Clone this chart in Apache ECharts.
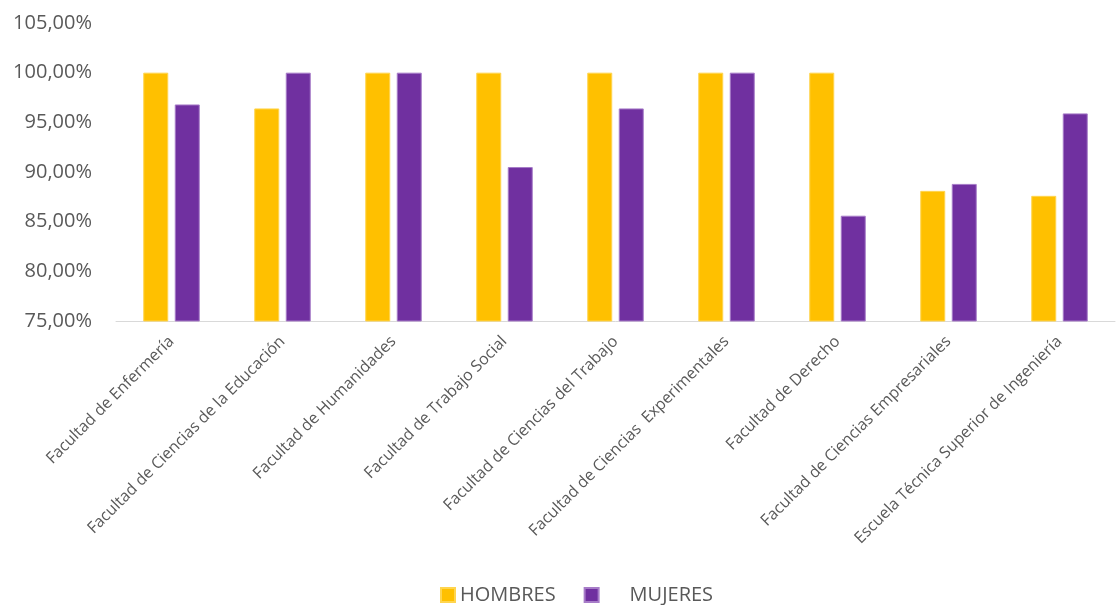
<!DOCTYPE html>
<html>
<head>
<meta charset="utf-8">
<script src="https://cdn.jsdelivr.net/npm/echarts@6/dist/echarts.min.js"></script>
<style>
html,body{margin:0;padding:0;background:#fff;}
#chart{width:1116px;height:605px;}
</style>
</head>
<body>
<div id="chart"></div>
<script>
var categories = [
  'Facultad de Enfermería',
  'Facultad de Ciencias de la Educación',
  'Facultad de Humanidades',
  'Facultad de Trabajo Social',
  'Facultad de Ciencias del Trabajo',
  'Facultad de Ciencias  Experimentales',
  'Facultad de Derecho',
  'Facultad de Ciencias Empresariales',
  'Escuela Técnica Superior de Ingeniería'
];
var hombres = [100, 96.4, 100, 100, 100, 100, 100, 88.1, 87.6];
var mujeres = [96.8, 100, 100, 90.5, 96.4, 100, 85.6, 88.8, 95.9];
var yTicks = { min: 75, max: 105, step: 5 };

var chart = echarts.init(document.getElementById('chart'));
var font = 'Open Sans';
chart.setOption({
  animation: false,
  textStyle: { fontFamily: font },
  grid: { left: 116, right: 1, top: 23, bottom: 284, containLabel: false },
  legend: {
    top: 585,
    left: 440,
    icon: 'rect',
    itemWidth: 14,
    itemHeight: 14,
    itemGap: 28,
    padding: 0,
    textStyle: { fontFamily: font, fontSize: 20, color: '#595959' },
    formatter: function (n) { return n === 'MUJERES' ? '     ' + n : n; },
    data: ['HOMBRES', 'MUJERES']
  },
  xAxis: {
    type: 'category',
    data: categories,
    axisLine: { lineStyle: { color: '#d9d9d9', width: 1 } },
    axisTick: { show: false },
    axisLabel: { rotate: 45, interval: 0, fontSize: 16, color: '#595959', fontFamily: font, margin: 18 }
  },
  yAxis: {
    type: 'value',
    min: yTicks.min,
    max: yTicks.max,
    interval: yTicks.step,
    axisLine: { show: false },
    axisTick: { show: false },
    splitLine: { show: false },
    axisLabel: {
      fontSize: 20, color: '#595959', fontFamily: font, margin: 24,
      formatter: function (v) { return v.toFixed(2).replace('.', ',') + '%'; }
    }
  },
  series: [
    {
      name: 'HOMBRES', type: 'bar', data: hombres,
      barWidth: 25, barGap: '26%',
      itemStyle: { color: '#FFC000', borderColor: '#FFD54F', borderWidth: 1 }
    },
    {
      name: 'MUJERES', type: 'bar', data: mujeres,
      barWidth: 25, barGap: '26%',
      itemStyle: { color: '#7030A0', borderColor: '#A77CC8', borderWidth: 1 }
    }
  ]
});
</script>
</body>
</html>
